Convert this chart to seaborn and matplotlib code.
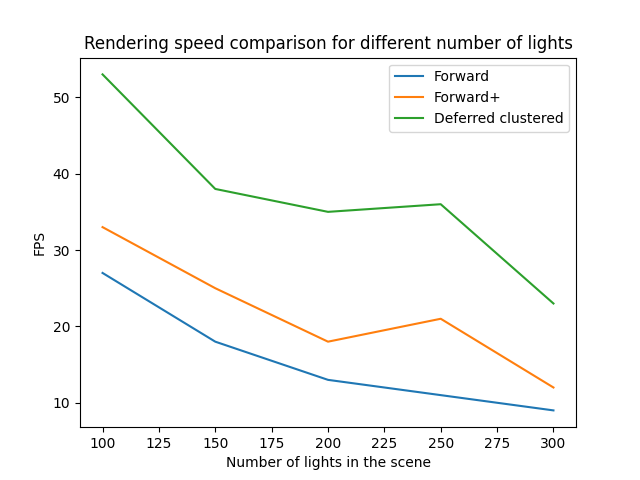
import matplotlib
matplotlib.use("Agg")
import matplotlib.pyplot as plt
import seaborn as sns
import pandas as pd

lights = [100, 150, 200, 250, 300]
forward = [27, 18, 13, 11, 9]
forward_plus = [33, 25, 18, 21, 12]
deferred = [53, 38, 35, 36, 23]

df = pd.DataFrame({
    "lights": lights * 3,
    "fps": forward + forward_plus + deferred,
    "method": ["Forward"] * 5 + ["Forward+"] * 5 + ["Deferred clustered"] * 5,
})

fig, ax = plt.subplots(figsize=(6.4, 4.8), dpi=100)
sns.lineplot(data=df, x="lights", y="fps", hue="method", ax=ax,
             palette=["#1f77b4", "#ff7f0e", "#2ca02c"])
ax.legend(title=None)
ax.set_xlabel("Number of lights in the scene")
ax.set_ylabel("FPS")
ax.set_title("Rendering speed comparison for different number of lights")
fig.savefig("out.png")
